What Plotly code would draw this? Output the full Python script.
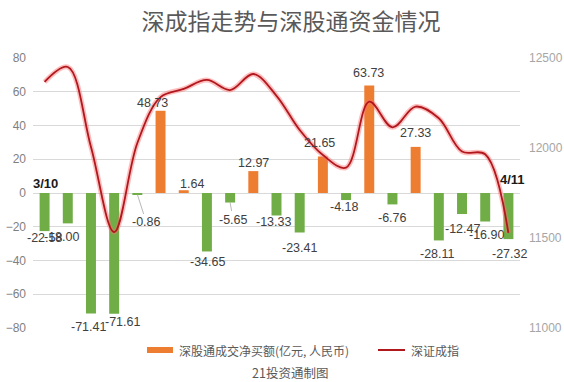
import plotly.graph_objects as go

# ---------------- data ----------------
dates = ["3/10", "3/11", "3/14", "3/15", "3/16", "3/17", "3/18", "3/21", "3/22", "3/23",
         "3/24", "3/25", "3/28", "3/29", "3/30", "3/31", "4/1", "4/6", "4/7", "4/8", "4/11"]
net_buy = [-22.58, -18.00, -71.41, -71.61, -0.86, 48.73, 1.64, -34.65, -5.65, 12.97,
           -13.33, -23.41, 21.65, -4.18, 63.73, -6.76, 27.33, -28.11, -12.47, -16.90, -27.32]
szci = [12367, 12450, 12006, 11533, 12028, 12283, 12328, 12378, 12322, 12411,
        12290, 12100, 11961, 11891, 12257, 12115, 12230, 12165, 11980, 11965, 11528]
left_ticks = [-80, -60, -40, -20, 0, 20, 40, 60, 80]
right_ticks = [11000, 11500, 12000, 12500]

title_text = "深成指走势与深股通资金情况"
bar_name = "深股通成交净买额(亿元, 人民币)"
line_name = "深证成指"
source_text = "21投资通制图"

# ---------------- styles ----------------
ORANGE = "#ED7D31"
GREEN = "#70AD47"
RED = "#B0181E"
GRID = "#D9D9D9"
# label nudges (dx px, distance from bar end px)
label_nudge = [(0, 7), (-6, 14), (-2, 13), (8, 8), (9, 28), (-8, 8), (8, 6), (1, 11), (3, 17), (0, 8),
               (-3, 7), (0, 15), (-3, 13), (-2, 7), (-1, 12), (0, 14), (0, 14), (-1, 14), (0, 15), (1, 13), (1, 15)]

W, H = 564, 382
PL, PR, PT, PB = 33, 520, 58, 328          # plot area in pixels
L, T, R, B = PL, PT, W - PR, H - PB
PW, PH = PR - PL, PB - PT


def px(xp):
    return (xp - PL) / PW


def py(yp):
    return (PB - yp) / PH


fig = go.Figure()
fig.add_trace(go.Bar(
    x=dates, y=net_buy,
    marker=dict(color=[ORANGE if v >= 0 else GREEN for v in net_buy], line_width=0),
    width=0.43, showlegend=False, hoverinfo="x+y",
))
fig.add_trace(go.Scatter(
    x=dates, y=szci, yaxis="y2", mode="lines",
    line=dict(color="rgba(255,110,110,0.45)", width=5, shape="spline", smoothing=1.0),
    showlegend=False, hoverinfo="skip",
))
fig.add_trace(go.Scatter(
    x=dates, y=szci, yaxis="y2", mode="lines",
    line=dict(color=RED, width=1.8, shape="spline", smoothing=1.0),
    showlegend=False,
))

annotations = []
for d, v, (dx, dd) in zip(dates, net_buy, label_nudge):
    sign = 1 if v >= 0 else -1
    txt = f"{v:.2f}"
    if dd > 16:
        annotations.append(dict(
            x=d, y=v, xref="x", yref="y", text=txt, showarrow=True,
            ax=dx, ay=-sign * dd, arrowhead=0, arrowwidth=0.8, arrowcolor="#A6A6A6",
            standoff=0, font=dict(size=12.5, color="#404040", family="Liberation Sans")))
    else:
        annotations.append(dict(
            x=d, y=v, xref="x", yref="y", text=txt, showarrow=False,
            xshift=dx, yshift=sign * dd, yanchor="middle",
            font=dict(size=12.5, color="#404040", family="Liberation Sans")))

# date labels at both ends
annotations.append(dict(x=dates[0], y=0, xref="x", yref="y", text=f"<b>{dates[0]}</b>",
                        showarrow=False, yshift=10, xshift=1,
                        font=dict(size=13, color="#1a1a1a", family="Liberation Sans")))
annotations.append(dict(x=dates[-1], y=0, xref="x", yref="y", text=f"<b>{dates[-1]}</b>",
                        showarrow=False, yshift=14, xshift=4,
                        font=dict(size=13, color="#1a1a1a", family="Liberation Sans")))

# custom legend + source
annotations.append(dict(x=px(177), y=py(350.5), xref="paper", yref="paper", text=bar_name,
                        showarrow=False, xanchor="left", yanchor="middle",
                        font=dict(size=12, color="#595959")))
annotations.append(dict(x=px(409), y=py(350.5), xref="paper", yref="paper", text=line_name,
                        showarrow=False, xanchor="left", yanchor="middle",
                        font=dict(size=12, color="#595959")))
annotations.append(dict(x=px(290), y=py(372), xref="paper", yref="paper", text=source_text,
                        showarrow=False, xanchor="center", yanchor="middle",
                        font=dict(size=12.5, color="#595959")))

shapes = [
    dict(type="rect", xref="paper", yref="paper", x0=px(147), x1=px(173), y0=py(353), y1=py(347),
         fillcolor=ORANGE, line_width=0),
    dict(type="line", xref="paper", yref="paper", x0=px(378), x1=px(405), y0=py(350), y1=py(350),
         line=dict(color=RED, width=2)),
]

fig.update_layout(
    width=W, height=H, autosize=False,
    margin=dict(l=L, r=R, t=T, b=B, pad=0, autoexpand=False),
    paper_bgcolor="white", plot_bgcolor="white",
    font=dict(family="Noto Sans CJK SC", size=12, color="#595959"),
    title=dict(text=title_text, x=291 / W, xanchor="center", y=1 - 22 / H, yanchor="middle",
               font=dict(size=23, color="#595959", family="Noto Sans CJK SC")),
    xaxis=dict(type="category", showticklabels=False, showgrid=False, zeroline=False,
               showline=False, ticks="", range=[-0.5, len(dates) - 0.5], automargin=False),
    yaxis=dict(range=[-80, 80], tickvals=left_ticks, showgrid=True, gridcolor=GRID, gridwidth=1,
               zeroline=False, showline=False, ticks="", ticklabelstandoff=6, automargin=False,
               tickfont=dict(size=12, color="#7F7F7F", family="Liberation Sans")),
    yaxis2=dict(range=[11000, 12500], tickvals=right_ticks, tickformat="d", overlaying="y",
                side="right", showgrid=False, zeroline=False, showline=False, ticks="",
                ticklabelstandoff=8, automargin=False,
                tickfont=dict(size=12, color="#A6A6A6", family="Liberation Sans")),
    bargap=0.57,
    annotations=annotations,
    shapes=shapes,
    showlegend=False,
)

fig.write_html(
    "out.html",
    config={"responsive": False, "displayModeBar": False},
    post_script="document.body.style.margin='0';document.body.style.overflow='hidden';",
)
